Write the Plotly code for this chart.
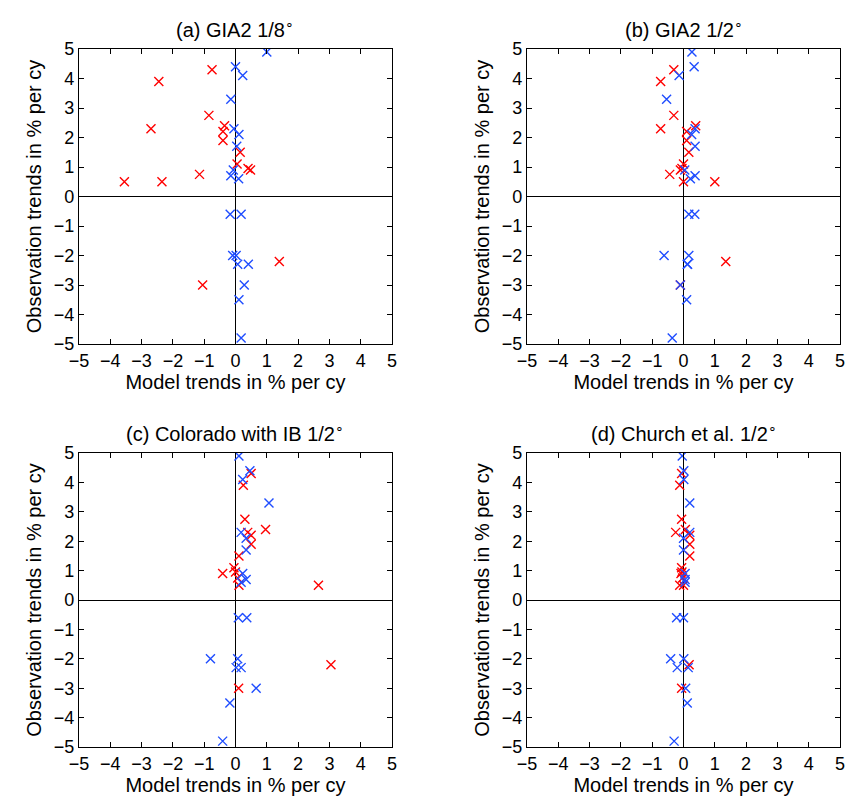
import plotly.graph_objects as go

# Observation trends (shared stations)
red_obs = [4.3, 3.9, 2.75, 2.4, 2.3, 2.2, 1.9, 1.5, 1.1, 0.95, 0.9, 0.75, 0.5, 0.5, -2.2, -3.0]
blue_obs = [4.9, 4.4, 4.1, 3.3, 2.3, 2.1, 1.7, 0.9, 0.7, 0.6, -0.6, -0.6, -2.0, -2.0, -2.3, -2.3, -3.0, -3.5, -4.8]

# Model trends per panel
red_a = [-0.75, -2.45, -0.85, -0.35, -2.7, -0.4, -0.4, 0.15, 0.05, 0.4, 0.48, -1.15, -3.55, -2.35, 1.4, -1.05]
blue_a = [1.0, 0.0, 0.23, -0.15, -0.05, 0.11, 0.04, -0.07, -0.15, 0.1, -0.17, 0.18, -0.09, 0.02, 0.07, 0.41, 0.28, 0.11, 0.18]

red_b = [-0.31, -0.73, -0.31, 0.39, -0.73, 0.1, 0.1, 0.17, 0.0, -0.05, -0.1, -0.44, 0.0, 1.0, 1.35, -0.1]
blue_b = [0.27, 0.34, -0.14, -0.54, 0.37, 0.26, 0.37, 0.04, 0.37, 0.22, 0.17, 0.36, -0.62, 0.17, 0.12, 0.13, -0.1, 0.1, -0.36]

red_c = [0.5, 0.25, 0.3, 0.96, 0.39, 0.5, 0.5, 0.11, -0.05, 0.0, -0.41, 0.07, 0.11, 2.65, 3.05, 0.1]
blue_c = [0.11, 0.46, 0.23, 1.07, 0.18, 0.34, 0.34, 0.23, 0.34, 0.18, 0.09, 0.36, -0.8, 0.07, 0.02, 0.18, 0.66, -0.18, -0.41]

red_d = [-0.06, -0.12, -0.06, 0.06, -0.25, 0.2, 0.2, 0.2, -0.06, -0.05, -0.08, -0.03, -0.12, 0.0, 0.18, -0.06]
blue_d = [-0.04, 0.01, 0.01, 0.2, 0.2, 0.0, 0.0, 0.05, 0.05, 0.05, -0.22, 0.0, -0.41, 0.01, -0.2, 0.15, 0.07, 0.12, -0.3]

titles = ["(a) GIA2 1/8<sup>∘</sup>", "(b) GIA2 1/2<sup>∘</sup>",
          "(c) Colorado with IB 1/2<sup>∘</sup>", "(d) Church et al. 1/2<sup>∘</sup>"]
tick_vals = [-5, -4, -3, -2, -1, 0, 1, 2, 3, 4, 5]
tick_text = ["\u22125", "\u22124", "\u22123", "\u22122", "\u22121", "0", "1", "2", "3", "4", "5"]

W, H = 849, 806
xdoms = [(79 / W, 392 / W), (527 / W, 840 / W)]
ydoms = [(1 - 344 / H, 1 - 49 / H), (1 - 747 / H, 1 - 453 / H)]

RED = "#ff0000"
BLUE = "#1f4dff"
FONT = "Liberation Sans, Arial, Helvetica, sans-serif"

panels = [(red_a, blue_a), (red_b, blue_b), (red_c, blue_c), (red_d, blue_d)]

fig = go.Figure()
layout = dict(
    width=W, height=H, margin=dict(l=0, r=0, t=0, b=0, autoexpand=False),
    paper_bgcolor="white", plot_bgcolor="white", showlegend=False,
    font=dict(family=FONT, size=18, color="black"),
)
annotations = []
for i, (rm, bm) in enumerate(panels):
    row, col = divmod(i, 2)
    n = "" if i == 0 else str(i + 1)
    xa = "x" + n
    ya = "y" + n
    fig.add_trace(go.Scatter(x=rm, y=red_obs, mode="markers", xaxis=xa, yaxis=ya,
                             marker=dict(symbol="x-thin", size=9, line=dict(width=1.4, color=RED), color=RED)))
    fig.add_trace(go.Scatter(x=bm, y=blue_obs, mode="markers", xaxis=xa, yaxis=ya,
                             marker=dict(symbol="x-thin", size=9, line=dict(width=1.4, color=BLUE), color=BLUE)))
    common = dict(range=[-5, 5], tickvals=tick_vals, ticktext=tick_text, ticks="inside", ticklen=5,
                  tickcolor="black", showline=True, linecolor="black", linewidth=1.3, mirror="ticks",
                  showgrid=False, zeroline=True, zerolinecolor="black", zerolinewidth=1.2,
                  automargin=False, tickfont=dict(size=18, family=FONT))
    layout["xaxis" + n] = dict(common, domain=xdoms[col], anchor=ya,
                               title=dict(text="Model trends in % per cy", font=dict(size=20), standoff=4))
    layout["yaxis" + n] = dict(common, domain=ydoms[row], anchor=xa,
                               title=dict(text="Observation trends in % per cy", font=dict(size=20), standoff=6))
    annotations.append(dict(text=titles[i], xref="paper", yref="paper",
                            x=sum(xdoms[col]) / 2, y=ydoms[row][1], yanchor="bottom", xanchor="center",
                            yshift=6, showarrow=False, font=dict(size=20)))
layout["annotations"] = annotations
fig.update_layout(**layout)
fig.write_html("out.html")
